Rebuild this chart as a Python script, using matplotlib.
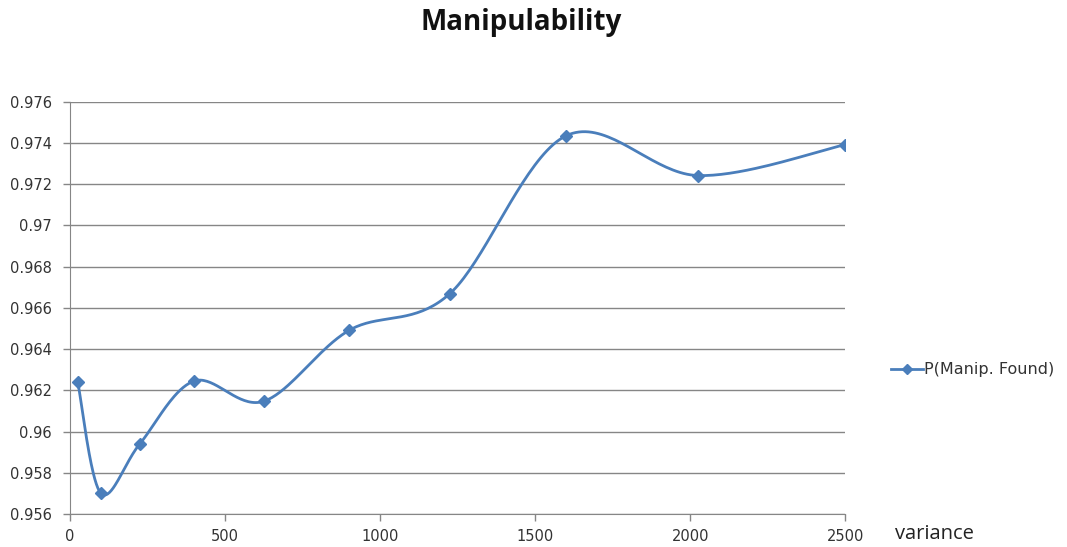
import numpy as np
import matplotlib
matplotlib.use("Agg")
from matplotlib import pyplot as plt
from matplotlib.lines import Line2D

# data
variance = [25, 100, 225, 400, 625, 900, 1225, 1600, 2025, 2500]
p_found = [0.9624, 0.9570, 0.9594, 0.96245, 0.96147, 0.96491, 0.96669, 0.97435, 0.97242, 0.97392]
series_name = "P(Manip. Found)"
y_ticks = [0.956, 0.958, 0.96, 0.962, 0.964, 0.966, 0.968, 0.97, 0.972, 0.974, 0.976]
y_tick_labels = ["0.956", "0.958", "0.96", "0.962", "0.964", "0.966", "0.968", "0.97", "0.972", "0.974", "0.976"]
x_ticks = [0, 500, 1000, 1500, 2000, 2500]

blue = "#4a7ebb"
grey = "#868686"


def smooth(xs, ys, n=40):
    # excel-like smoothed line: catmull-rom between the data points
    pts = np.column_stack([xs, ys]).astype(float)
    ext = np.vstack([pts[0], pts, pts[-1]])
    out = []
    t = np.linspace(0, 1, n)[:, None]
    for i in range(1, len(ext) - 2):
        p0, p1, p2, p3 = ext[i - 1], ext[i], ext[i + 1], ext[i + 2]
        c1 = p1 + (p2 - p0) / 6.0
        c2 = p2 - (p3 - p1) / 6.0
        seg = ((1 - t) ** 3) * p1 + 3 * ((1 - t) ** 2) * t * c1 + 3 * (1 - t) * t ** 2 * c2 + t ** 3 * p2
        out.append(seg if i == 1 else seg[1:])
    out = np.vstack(out)
    return out[:, 0], out[:, 1]


plt.rcParams['font.family'] = ['DejaVu Sans']

fig = plt.figure(figsize=(10.67, 5.47), dpi=100)
ax = fig.add_axes([0.0656, 0.0603, 0.7265, 0.7537])

sx, sy = smooth(variance, p_found)
ax.plot(sx, sy, color=blue, lw=2.0, solid_capstyle='round', zorder=3)
ax.plot(variance, p_found, ls='none', marker='D', ms=6.5, color=blue, zorder=4)

ax.set_xlim(0, 2500)
ax.set_ylim(0.956, 0.976)
ax.set_yticks(y_ticks)
ax.set_yticklabels(y_tick_labels)
ax.set_xticks(x_ticks)
ax.grid(axis='y', color=grey, lw=1.0)
ax.set_axisbelow(True)
for s in ['top', 'right']:
    ax.spines[s].set_visible(False)
for s in ['left', 'bottom']:
    ax.spines[s].set_color(grey)
ax.tick_params(axis='both', colors=grey, length=5, width=1, labelcolor='#333333', labelsize=10.5)
ax.tick_params(axis='y', pad=8)
ax.tick_params(axis='x', pad=6)

fig.text(0.488, 0.958, "Manipulability", ha='center', va='center', fontsize=20,
         fontweight='bold', color='#111111', family='Open Sans')
fig.text(0.876, 0.024, "variance", ha='center', va='center', fontsize=14.5,
         color='#222222', family='Open Sans')

# legend
handle = Line2D([], [], color=blue, lw=2.0, marker='D', ms=5)
fig.legend([handle], [series_name], loc='center left', bbox_to_anchor=(0.822, 0.324),
           frameon=False, fontsize=11.5, handlelength=2.0, handletextpad=0.05,
           labelcolor='#333333')

fig.savefig("out.png", dpi=100)
